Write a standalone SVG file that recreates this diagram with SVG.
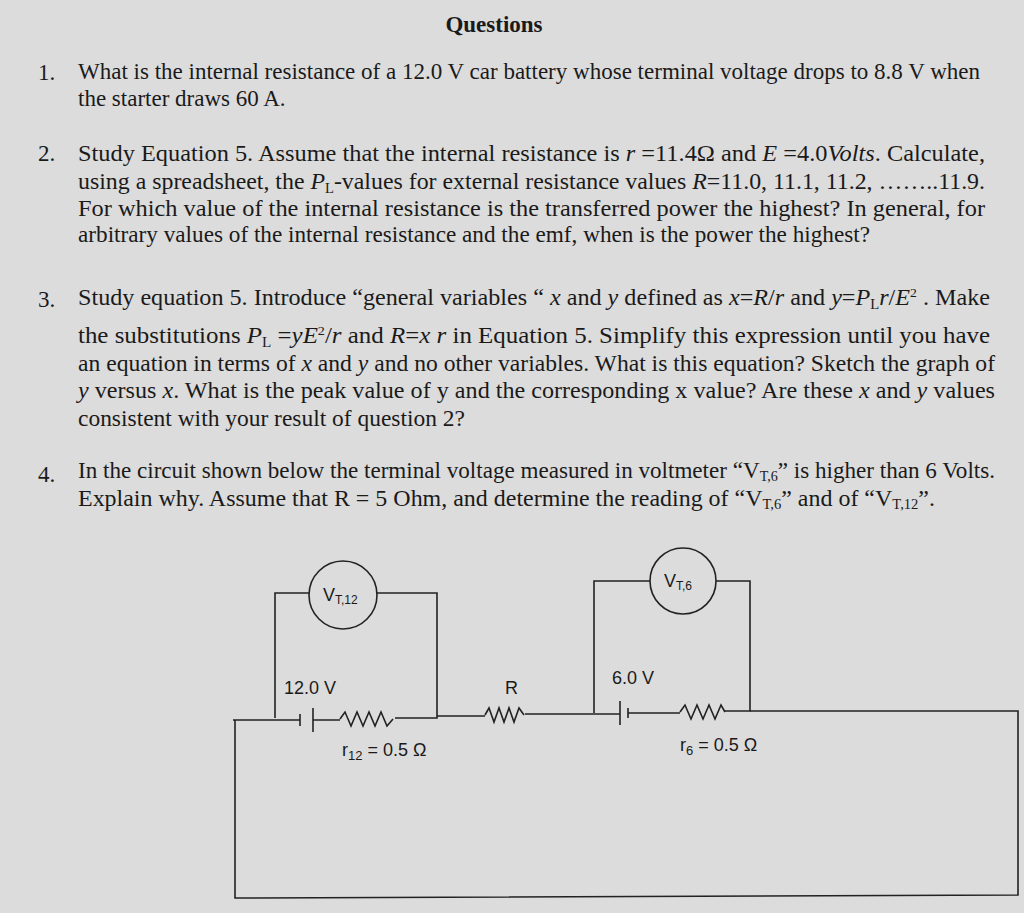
<svg xmlns="http://www.w3.org/2000/svg" width="1024" height="913" viewBox="0 0 1024 913">
<style>
.t{font-family:"Liberation Serif",serif;font-size:23px;fill:#1a1a1a}
.s{font-family:"Liberation Sans",sans-serif;font-size:18px;fill:#1a1a1a}
.w{fill:none;stroke:#222;stroke-width:1.6}
</style>
<rect width="1024" height="913" fill="#dcdcdc"/>
<text x="494" y="32" text-anchor="middle" class="t" font-weight="bold" font-size="28">Questions</text>
<g class="t">
<text x="38" y="80">1.</text>
<text x="78" y="79" textLength="902" lengthAdjust="spacingAndGlyphs">What is the internal resistance of a 12.0 V car battery whose terminal voltage drops to 8.8 V when</text>
<text x="78" y="106">the starter draws 60 A.</text>
<text x="38" y="161">2.</text>
<text x="78" y="161" textLength="907" lengthAdjust="spacingAndGlyphs">Study Equation 5. Assume that the internal resistance is <tspan font-style="italic">r</tspan> =11.4Ω and <tspan font-style="italic">E</tspan> =4.0<tspan font-style="italic">Volts</tspan>. Calculate,</text>
<text x="78" y="189" textLength="907" lengthAdjust="spacingAndGlyphs">using a spreadsheet, the <tspan font-style="italic">P</tspan><tspan font-size="14" dy="4">L</tspan><tspan dy="-4">-values for external resistance values </tspan><tspan font-style="italic">R</tspan>=11.0, 11.1, 11.2, ……..11.9.</text>
<text x="78" y="216" textLength="907" lengthAdjust="spacingAndGlyphs">For which value of the internal resistance is the transferred power the highest?  In general, for</text>
<text x="78" y="242" textLength="792" lengthAdjust="spacingAndGlyphs">arbitrary values of the internal resistance and the emf, when is the power the highest?</text>
<text x="38" y="307">3.</text>
<text x="78" y="305" textLength="912" lengthAdjust="spacingAndGlyphs">Study equation 5. Introduce “general variables “ <tspan font-style="italic">x</tspan> and <tspan font-style="italic">y</tspan> defined as <tspan font-style="italic">x</tspan>=<tspan font-style="italic">R</tspan>/<tspan font-style="italic">r</tspan> and <tspan font-style="italic">y</tspan>=<tspan font-style="italic">P</tspan><tspan font-size="14" dy="4">L</tspan><tspan dy="-4" font-style="italic">r</tspan>/<tspan font-style="italic">E</tspan><tspan font-size="13" dy="-8">2</tspan><tspan dy="8"> .  Make</tspan></text>
<text x="78" y="343" textLength="912" lengthAdjust="spacingAndGlyphs">the substitutions <tspan font-style="italic">P</tspan><tspan font-size="14" dy="4">L</tspan><tspan dy="-4"> =</tspan><tspan font-style="italic">yE</tspan><tspan font-size="13" dy="-8">2</tspan><tspan dy="8">/</tspan><tspan font-style="italic">r</tspan> and <tspan font-style="italic">R</tspan>=<tspan font-style="italic">x r</tspan> in Equation 5.  Simplify this expression until you have</text>
<text x="78" y="371" textLength="917" lengthAdjust="spacingAndGlyphs">an equation in terms of <tspan font-style="italic">x</tspan> and <tspan font-style="italic">y</tspan> and no other variables.  What is this equation?  Sketch the graph of</text>
<text x="78" y="398" textLength="917" lengthAdjust="spacingAndGlyphs"><tspan font-style="italic">y</tspan> versus <tspan font-style="italic">x</tspan>.  What is the peak value of y and the corresponding x value?  Are these <tspan font-style="italic">x</tspan> and <tspan font-style="italic">y</tspan> values</text>
<text x="78" y="426" textLength="387" lengthAdjust="spacingAndGlyphs">consistent with your result of question 2?</text>
<text x="38" y="482">4.</text>
<text x="78" y="478" textLength="917" lengthAdjust="spacingAndGlyphs">In the circuit shown below the terminal voltage measured in voltmeter “V<tspan font-size="14" dy="3">T,6</tspan><tspan dy="-3">” is higher than 6 Volts.</tspan></text>
<text x="78" y="506" textLength="857" lengthAdjust="spacingAndGlyphs">Explain why.  Assume that R = 5 Ohm, and determine the reading of “V<tspan font-size="14" dy="3">T,6</tspan><tspan dy="-3">” and of “V</tspan><tspan font-size="14" dy="3">T,12</tspan><tspan dy="-3">”.</tspan></text>
</g>
<g id="connectors" class="w">
<path d="M233,720 H300 M313,720 H340 M395,718 H437 V593 H377 M309,593 H275 V718"/>
<path d="M437,716 H485 M525,714 H620 M628,713 H680 M725,711 H750 V581 H716 M650,581 H594 V713"/>
<path d="M750,711 H1018 V895 L235,898 V720"/>
</g>
<g id="battery12" class="w"><line x1="300" y1="714" x2="300" y2="726"/><line x1="313" y1="708" x2="313" y2="732"/></g>
<g id="r12"><path class="w" d="M340,719 l5,-7 l6,14 l6,-14 l6,14 l6,-14 l6,14 l6,-14 l6,14 l6,-7"/><text x="342" y="756" class="s">r<tspan font-size="13" dy="4">12</tspan><tspan dy="-4"> = 0.5 Ω</tspan></text></g>
<text x="284" y="694" class="s">12.0 V</text>
<g id="R"><path class="w" d="M485,715 l4,-7 l5,14 l5,-14 l5,14 l5,-14 l5,14 l5,-14 l5,7"/><text x="505" y="694" class="s">R</text></g>
<g id="battery6" class="w"><line x1="620" y1="701" x2="620" y2="725"/><line x1="628" y1="708" x2="628" y2="718"/></g>
<text x="612" y="684" class="s">6.0 V</text>
<g id="r6"><path class="w" d="M680,712 l5,-7 l6,14 l6,-14 l6,14 l6,-14 l6,14 l6,-14 l4,7"/><text x="680" y="751" class="s">r<tspan font-size="13" dy="4">6</tspan><tspan dy="-4"> = 0.5 Ω</tspan></text></g>
<g id="VT12"><circle cx="343" cy="595" r="34" fill="none" stroke="#222" stroke-width="1.6"/><text x="323" y="601" class="s" font-size="17">V<tspan font-size="12" dy="3">T,12</tspan></text></g>
<g id="VT6"><circle cx="683" cy="581" r="33" fill="none" stroke="#222" stroke-width="1.6"/><text x="664" y="587" class="s" font-size="17">V<tspan font-size="12" dy="3">T,6</tspan></text></g>
</svg>
